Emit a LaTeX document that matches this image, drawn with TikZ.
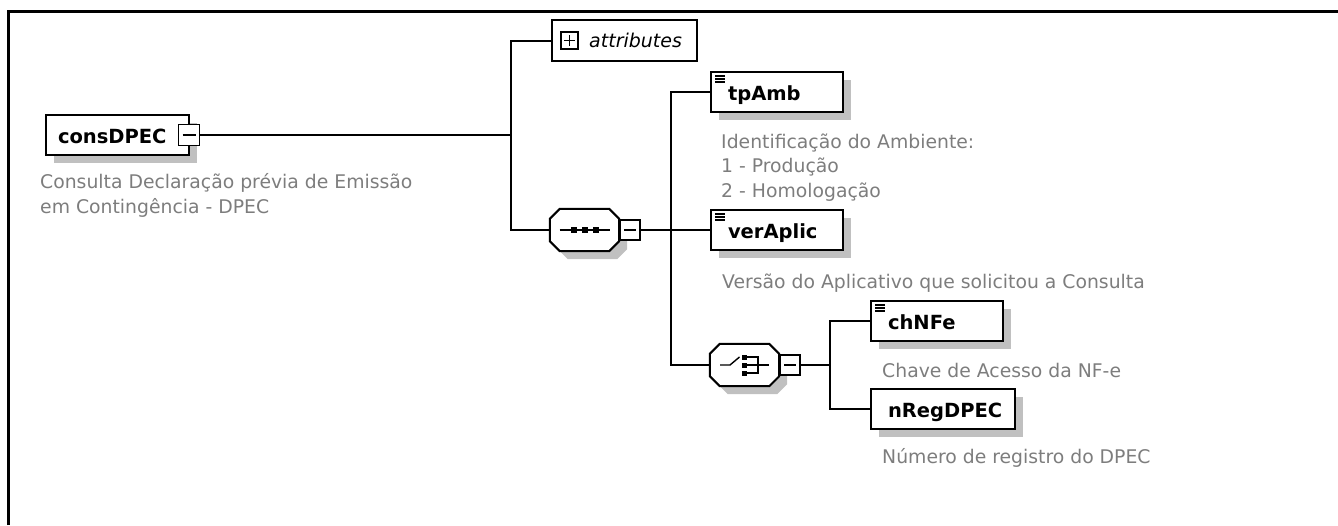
\documentclass[tikz,border=0pt]{standalone}
\usepackage{fontspec}
\usetikzlibrary{calc, shadows}

\newfontfamily\dvsans{DejaVu Sans}
\newcommand{\elemfont}{\dvsans\bfseries\fontsize{19.5}{24}\selectfont}
\newcommand{\descfont}{\dvsans\fontsize{18.8}{24.5}\selectfont}
\newcommand{\attrfont}{\dvsans\itshape\fontsize{19}{23}\selectfont}
\definecolor{descgray}{RGB}{125,125,125}
\definecolor{shadowgray}{RGB}{192,192,192}

% outline of a compositor (octagon) round node #1, moved by #2
\newcommand{\groupoutline}[2]{($(#1.north west) + (10 + #2, #2)$) -- ($(#1.north east) + (-10 + #2, #2)$)
    -- ($(#1.north east) + (#2, 10 + #2)$) -- ($(#1.south east) + (#2, -10 + #2)$)
    -- ($(#1.south east) + (-10 + #2, #2)$) -- ($(#1.south west) + (10 + #2, #2)$)
    -- ($(#1.south west) + (#2, -10 + #2)$) -- ($(#1.north west) + (#2, 10 + #2)$) -- cycle}

\tikzset{
    link/.style = {line width = 2pt},
    dropped/.style = {general shadow = {fill = shadowgray, shadow xshift = 8pt, shadow yshift = -8pt}},
    elem/.style = {draw, fill = white, line width = 2pt, minimum height = 40pt, inner xsep = 17pt, inner ysep = 0pt,
                   text height = 16pt, text depth = 0pt, align = left, font = \elemfont, dropped},
    listed/.style = {path picture = {\foreach \k in {4, 7, 10}
                     \draw[line width = 1.2pt] ([xshift = 4pt, yshift = -\k pt]path picture bounding box.north west) -- ++(10pt, 0pt);}},
    group/.style = {minimum width = 69pt, minimum height = 42pt, inner sep = 0pt},
    minusbox/.style = {draw, fill = white, line width = 1.8pt, minimum size = 20pt, inner sep = 0pt,
                       path picture = {\draw[line width = 1.4pt] ([xshift = 4pt]path picture bounding box.west) -- ([xshift = -4pt]path picture bounding box.east);}},
    plusbox/.style = {draw, fill = white, line width = 1.6pt, minimum size = 17pt, inner sep = 0pt,
                      path picture = {\draw[line width = 1.5pt] ([xshift = 3pt]path picture bounding box.west) -- ([xshift = -3pt]path picture bounding box.east);
                                      \draw[line width = 1.5pt] ([yshift = -3pt]path picture bounding box.north) -- ([yshift = 3pt]path picture bounding box.south);}},
    desc/.style = {anchor = base west, align = left, inner sep = 0pt, text = descgray, font = \descfont}
}

\begin{document}
\begin{tikzpicture}[x = 1pt, y = -1pt]
    \useasboundingbox (0, 0) rectangle (1338, 525);
    \draw[line width = 3pt] (8, 525) -- (8, 11) -- (1338, 11);

    % root element
    \node[elem, minimum width = 143pt, inner xsep = 12pt, text width = 119pt] (cons) at (117.5, 135) {consDPEC};
    \node[minusbox, minimum size = 21pt] (consM) at ($(cons.east) + (-1, 0)$) {};
    \node[desc] (consD) at (40, 213) {Consulta Declaração prévia de Emissão\\em Contingência - DPEC};

    % attributes
    \node[draw, fill = white, line width = 2pt, minimum width = 145pt, minimum height = 41pt] (attr) at (624.5, 40.5) {};
    \node[plusbox] (attrP) at (569.5, 40.5) {};
    \node[anchor = west, inner sep = 0pt, font = \attrfont] (attrL) at (589, 40.5) {attributes};

    % sequence
    \node[group] (seq) at (584.5, 230) {};
    \fill[shadowgray] \groupoutline{seq}{8};
    \filldraw[fill = white, line width = 2pt] \groupoutline{seq}{0};
    \node[minusbox, anchor = west] (seqM) at (seq.east) {};
    \draw[line width = 1.4pt] ($(seq.center) + (-25, 0)$) -- ($(seq.center) + (25, 0)$);
    \foreach \dx in {-11, 0, 11}
        \fill ($(seq.center) + (\dx - 3, -3)$) rectangle ++(6, 6);

    \node[elem, listed, minimum width = 132pt, text width = 98pt] (tpAmb) at (777, 92) {tpAmb};
    \node[desc] (tpAmbD) at (721, 197) {Identificação do Ambiente:\\1 - Produção\\2 - Homologação};
    \node[elem, listed, minimum width = 132pt, text width = 98pt] (verAplic) at (777, 230) {verAplic};
    \node[desc] (verAplicD) at (722, 288) {Versão do Aplicativo que solicitou a Consulta};

    % choice
    \node[group] (choice) at (744.5, 365) {};
    \fill[shadowgray] \groupoutline{choice}{8};
    \filldraw[fill = white, line width = 2pt] \groupoutline{choice}{0};
    \node[minusbox, anchor = west] (choiceM) at (choice.east) {};
    \draw[line width = 1.4pt] ($(choice.center) + (-24.5, 0)$) -- ($(choice.center) + (-14.5, 0)$) -- ($(choice.center) + (-5, -8)$);
    \foreach \dy in {-8, 0, 8}
        \fill ($(choice.center) + (-2.5, \dy - 2.5)$) rectangle ++(5, 5);
    \draw[line width = 1.4pt] ($(choice.center) + (2.5, -8)$) -- ($(choice.center) + (13.5, -8)$) -- ($(choice.center) + (13.5, 8)$) -- ($(choice.center) + (2.5, 8)$);
    \draw[line width = 1.4pt] ($(choice.center) + (2.5, 0)$) -- ($(choice.center) + (24.5, 0)$);

    \node[elem, listed, minimum width = 132pt, text width = 98pt] (chNFe) at (937, 321) {chNFe};
    \node[desc] (chNFeD) at (882, 377) {Chave de Acesso da NF-e};
    \node[elem, minimum width = 144pt, text width = 110pt] (nReg) at (943, 409) {nRegDPEC};
    \node[desc] (nRegD) at (882, 463) {Número de registro do DPEC};

    % connectors
    \coordinate (j1) at (511, 135);
    \coordinate (j2) at (671, 230);
    \coordinate (j3) at (830, 365);
    \draw[link] (consM.east) -- (j1);
    \draw[link] (attr.west) -| (j1) |- (seq.west);
    \draw[link] (seqM.east) -- (verAplic.west);
    \draw[link] (tpAmb.west) -| (j2) |- (choice.west);
    \draw[link] (choiceM.east) -- (j3);
    \draw[link] (chNFe.west) -| (j3) |- (nReg.west);
\end{tikzpicture}
\end{document}
